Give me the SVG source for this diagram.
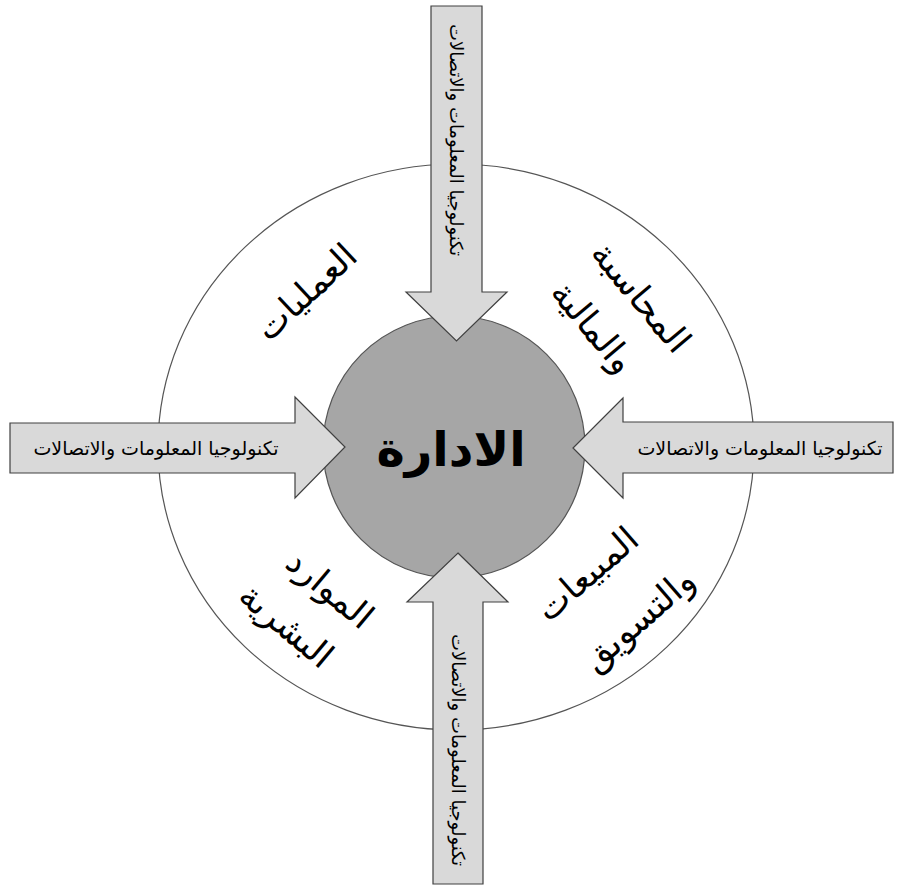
<svg xmlns="http://www.w3.org/2000/svg" width="900" height="885" viewBox="0 0 900 885">
<style>
.arrow{fill:#D9D9D9;stroke:#404040;stroke-width:1.2}
.atext{font-family:"DejaVu Sans","Noto Sans",sans-serif;font-size:19px;fill:#000;text-anchor:middle;direction:rtl}
.vtext{font-size:18px}
.qtext{font-family:"DejaVu Sans","Noto Sans",sans-serif;font-size:35px;fill:#000;text-anchor:middle;direction:rtl}
.ctext{font-family:"DejaVu Sans","Noto Sans",sans-serif;font-size:48px;font-weight:bold;fill:#000;text-anchor:middle;direction:rtl}
</style>
<rect width="900" height="885" fill="#fff"/>
<g id="outer-ring">
<ellipse cx="456" cy="447" rx="298" ry="283" fill="#fff" stroke="#555" stroke-width="1.2"/>
</g>
<g id="center-node">
<circle cx="454" cy="447" r="131" fill="#A6A6A6" stroke="#555" stroke-width="1.2"/>
<text class="ctext" x="451" y="466">الادارة</text>
</g>
<g id="quadrant-operations">
<text class="qtext" transform="translate(306,292) rotate(-43)" x="0" y="12">العمليات</text>
</g>
<g id="quadrant-accounting">
<g transform="translate(641,297) rotate(50)">
<text class="qtext" x="0" y="12">المحاسبة</text>
<text class="qtext" x="-8" y="68">والمالية</text>
</g>
</g>
<g id="quadrant-sales">
<g transform="translate(587,574) rotate(-41)">
<text class="qtext" x="0" y="12">المبيعات</text>
<text class="qtext" x="9" y="80">والتسويق</text>
</g>
</g>
<g id="quadrant-hr">
<g transform="translate(330,589) rotate(40)">
<text class="qtext" x="0" y="12">الموارد</text>
<text class="qtext" x="-10" y="68">البشرية</text>
</g>
</g>
<g id="connectors">
<g id="arrow-top">
<polygon class="arrow" points="431,6 482,6 482,292 507,292 456.5,341 406,292 431,292"/>
<text class="atext vtext" transform="translate(456,140) rotate(90)" x="0" y="6">تكنولوجيا المعلومات والاتصالات</text>
</g>
<g id="arrow-bottom">
<polygon class="arrow" points="458,553 508,602 483,602 483,884 433,884 433,602 407,602"/>
<text class="atext vtext" transform="translate(458,750) rotate(90)" x="0" y="6">تكنولوجيا المعلومات والاتصالات</text>
</g>
<g id="arrow-left">
<polygon class="arrow" points="10,423 295,423 295,397 345,447 295,498 295,473 10,473"/>
<text class="atext" x="156" y="455">تكنولوجيا المعلومات والاتصالات</text>
</g>
<g id="arrow-right">
<polygon class="arrow" points="893,422 623,422 623,398 573,448 623,498 623,473 893,473"/>
<text class="atext" x="760" y="455">تكنولوجيا المعلومات والاتصالات</text>
</g>
</g>
</svg>
